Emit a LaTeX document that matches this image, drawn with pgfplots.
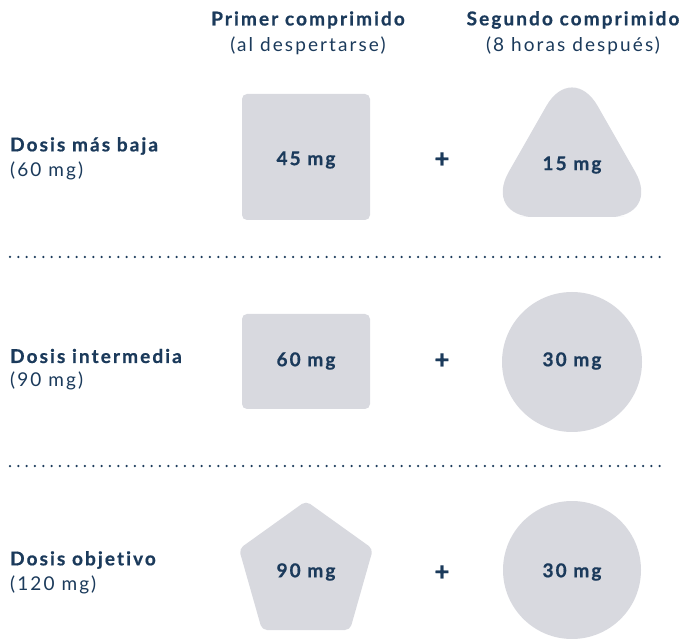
\documentclass[border=0pt]{standalone}
\usepackage{pgfplots}
\pgfplotsset{compat=1.18}
\usepackage{fontspec}
\setmainfont[LetterSpace=11, Ligatures=NoCommon, BoldFeatures={FakeBold=0.7}]{Lato}
\definecolor{navy}{HTML}{1B3A5B}
\definecolor{pill}{HTML}{D8D9DF}
\tikzset{reg/.style={text=navy, font=\fontsize{19}{21}\selectfont},
  bld/.style={text=navy, font=\fontsize{19}{21}\selectfont\bfseries},
  pls/.style={text=navy, font=\fontsize{26}{28}\selectfont\bfseries}}
\begin{document}
\begin{tikzpicture}
\begin{axis}[name=ax, scale only axis, width=683pt, height=638pt,
  xmin=0, xmax=683, ymin=0, ymax=638, hide axis, clip=false]
% shapes
\addplot[fill=pill, draw=none, rounded corners=5pt] coordinates {(306,418)(370,418)(370,544)(242,544)(242,418)} -- cycle;
\addplot[fill=pill, draw=none, rounded corners=52pt] coordinates {(572,421)(661,421)(572,577)(483,421)} -- cycle;
\addplot[fill=pill, draw=none, rounded corners=5pt] coordinates {(306,229)(370,229)(370,324)(242,324)(242,229)} -- cycle;
\addplot[fill=pill, draw=none] coordinates {(572,276)} circle[radius=70];
\addplot[fill=pill, draw=none, rounded corners=5pt] coordinates {(306,8)(350,8)(373,89)(306,137)(239,89)(262,8)} -- cycle;
\addplot[fill=pill, draw=none] coordinates {(572,68)} circle[radius=69];
% dotted separators
\addplot[navy, line width=2.5pt, line cap=round, dash pattern=on 0pt off 8.33pt] coordinates {(10,381)(668,381)};
\addplot[navy, line width=2.5pt, line cap=round, dash pattern=on 0pt off 8.33pt] coordinates {(10,172)(668,172)};
% headers
\node[bld] at (axis cs:308,618) {Primer comprimido};
\node[reg] at (axis cs:308,592) {(al despertarse)};
\node[bld] at (axis cs:573,618) {Segundo comprimido};
\node[reg] at (axis cs:573,592) {(8 horas después)};
% row labels
\node[bld, anchor=west, inner sep=0pt] at (axis cs:10,492) {Dosis más baja};
\node[reg, anchor=west, inner sep=0pt] at (axis cs:10,467) {(60 mg)};
\node[bld, anchor=west, inner sep=0pt] at (axis cs:10,282) {Dosis intermedia};
\node[reg, anchor=west, inner sep=0pt] at (axis cs:10,257) {(90 mg)};
\node[bld, anchor=west, inner sep=0pt] at (axis cs:10,78) {Dosis objetivo};
\node[reg, anchor=west, inner sep=0pt] at (axis cs:10,53) {(120 mg)};
% doses
\node[bld] at (axis cs:306,478) {45 mg};
\node[pls] at (axis cs:442,478) {+};
\node[bld] at (axis cs:572,473) {15 mg};
\node[bld] at (axis cs:306,277) {60 mg};
\node[pls] at (axis cs:442,277) {+};
\node[bld] at (axis cs:572,277) {30 mg};
\node[bld] at (axis cs:306,66) {90 mg};
\node[pls] at (axis cs:442,65) {+};
\node[bld] at (axis cs:572,66) {30 mg};
\end{axis}
\pgfresetboundingbox
\path (ax.south west) rectangle (ax.north east);
\end{tikzpicture}
\end{document}
